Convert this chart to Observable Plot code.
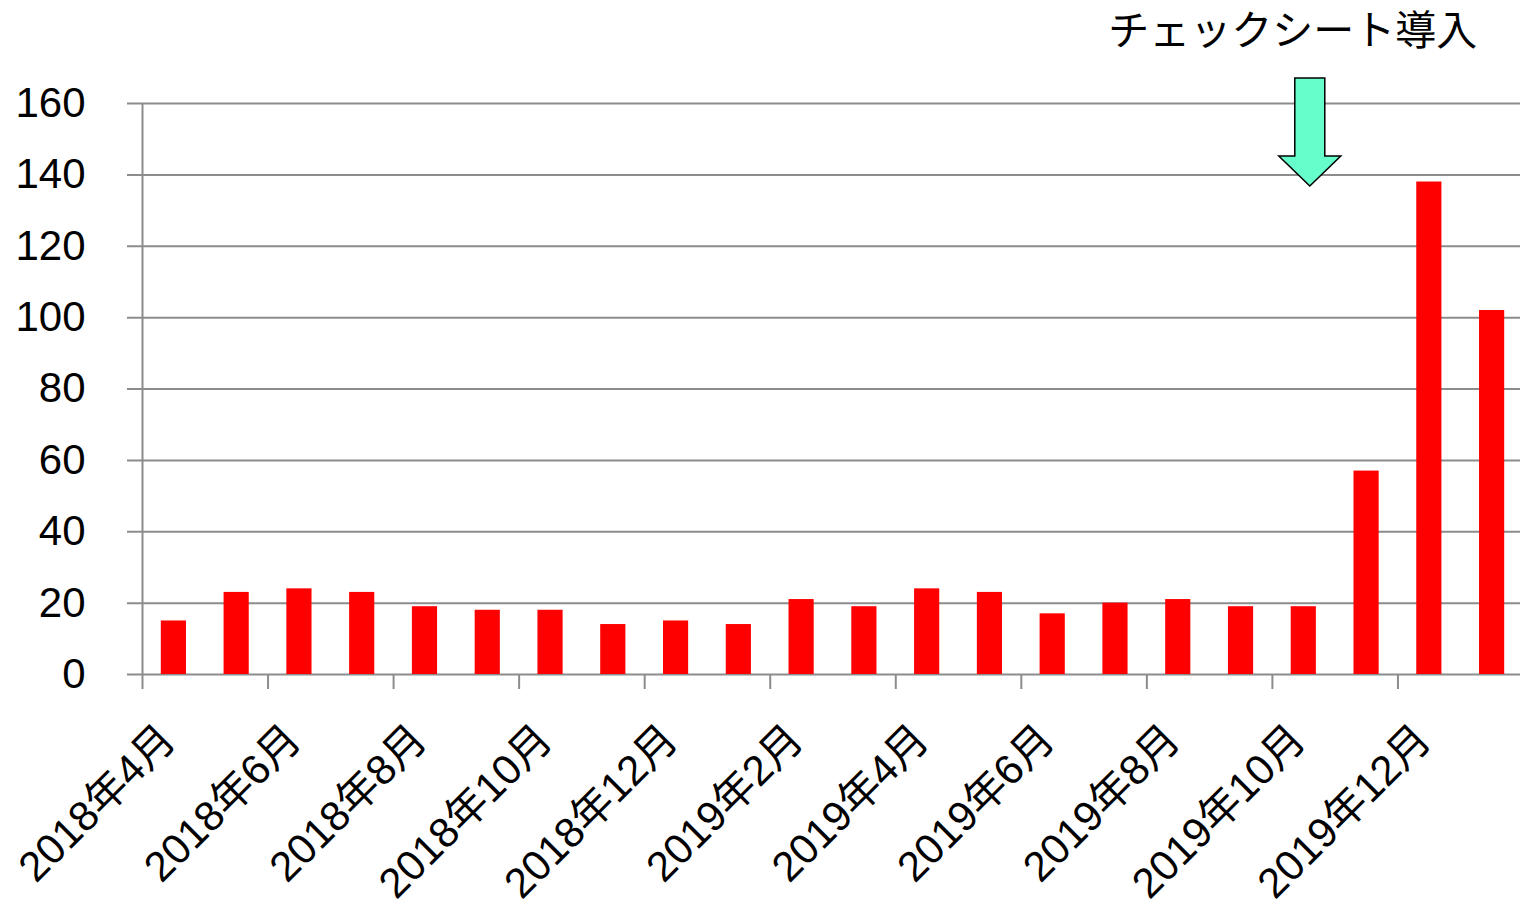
<!DOCTYPE html>
<html>
<head>
<meta charset="utf-8">
<script src="https://cdn.jsdelivr.net/npm/d3@7"></script>
<script src="https://cdn.jsdelivr.net/npm/@observablehq/plot@0.6"></script>
<style>
  html, body { margin: 0; padding: 0; background: #fff; overflow: hidden; }
</style>
</head>
<body>
<div id="chart"></div>
<script>
// ---- data ----
const months = [
  "2018年4月", "2018年5月", "2018年6月", "2018年7月", "2018年8月", "2018年9月",
  "2018年10月", "2018年11月", "2018年12月", "2019年1月", "2019年2月", "2019年3月",
  "2019年4月", "2019年5月", "2019年6月", "2019年7月", "2019年8月", "2019年9月",
  "2019年10月", "2019年11月", "2019年12月", "2020年1月"
];
const counts = [15, 23, 24, 23, 19, 18, 18, 14, 15, 14, 21, 19, 24, 23, 17, 20, 21, 19, 19, 57, 138, 102];
const yTicks = [0, 20, 40, 60, 80, 100, 120, 140, 160];
const xTickLabels = [
  "2018年4月", "2018年6月", "2018年8月", "2018年10月", "2018年12月",
  "2019年2月", "2019年4月", "2019年6月", "2019年8月", "2019年10月", "2019年12月"
];
const annotationText = "チェックシート導入";
const annotationMonth = "2019年10月";
const arrowValue = 152;   // vertical centre of the arrow (in chart units)
const labelValue = 180;   // annotation text height (in chart units)

// ---- derived tables ----
const bars = months.map((m, i) => ({month: m, i, value: counts[i]}));
const xTicks = xTickLabels.map(l => months.indexOf(l));
const annIdx = months.indexOf(annotationMonth);
const annotation = [{i: annIdx, arrowY: arrowValue, textY: labelValue, text: annotationText}];

const gridColor = "#8c8c8c";
const font = "'Liberation Sans', 'Noto Sans CJK JP', sans-serif";

// block arrow pointing down, centred on the point
const downArrow = {
  draw(ctx) {
    ctx.moveTo(-15, -54);
    ctx.lineTo(15, -54);
    ctx.lineTo(15, 24);
    ctx.lineTo(31, 24);
    ctx.lineTo(0, 54);
    ctx.lineTo(-31, 24);
    ctx.lineTo(-15, 24);
    ctx.closePath();
  }
};

const chart = Plot.plot({
  width: 1520,
  height: 908,
  marginLeft: 142,
  marginRight: -3,
  marginTop: 103,
  marginBottom: 234,
  style: {fontFamily: font, background: "#fff", color: "#000", overflow: "visible"},
  x: {type: "linear", domain: [0, months.length], axis: null},
  y: {domain: [0, 160], axis: null},
  marks: [
    // horizontal gridlines with outer tick marks
    Plot.ruleY(yTicks, {y: d => d, stroke: gridColor, strokeWidth: 2, insetLeft: -15}),
    // y axis line
    Plot.ruleX([0], {x: d => d, y1: () => 0, y2: () => 160, stroke: gridColor, strokeWidth: 2}),
    // x tick marks
    Plot.ruleX(xTicks, {x: d => d, y1: () => 0, y2: () => 0, insetBottom: -15, stroke: gridColor, strokeWidth: 2}),
    // bars
    Plot.rectY(bars, {x1: d => d.i, x2: d => d.i + 1, y: "value", fill: "#ff0000", insetLeft: 18.8, insetRight: 18.8}),
    // y tick labels
    Plot.text(yTicks, {x: () => 0, y: d => d, text: d => String(d), textAnchor: "end", dx: -57, fontSize: 42, fill: "#000"}),
    // x tick labels
    Plot.text(xTicks, {x: d => d, y: () => 0, text: d => months[d], rotate: -45, textAnchor: "end", lineAnchor: "middle", dx: 26, dy: 58, fontSize: 42, fill: "#000"}),
    // annotation arrow
    Plot.dot(annotation, {x: d => d.i + 0.5, y: "arrowY", dx: 6, symbol: downArrow, r: 10, fill: "#66ffcc", stroke: "#000", strokeWidth: 1.5}),
    // annotation text
    Plot.text(annotation, {x: d => d.i + 0.5, y: "textY", dx: -11, text: "text", fontSize: 41, fill: "#000"})
  ]
});

document.getElementById("chart").appendChild(chart);
</script>
</body>
</html>
